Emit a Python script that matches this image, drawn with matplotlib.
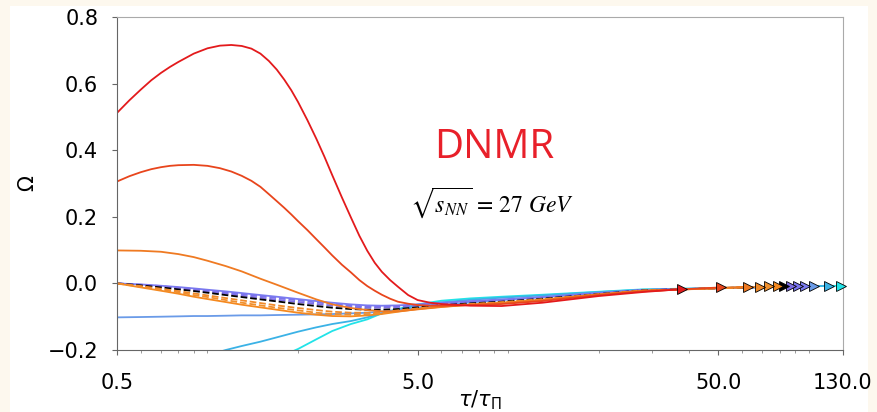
import matplotlib
matplotlib.use("Agg")
import matplotlib.pyplot as plt
from matplotlib.ticker import LogLocator, NullFormatter, FixedLocator, FixedFormatter
from matplotlib.patches import Rectangle

# time grid in units of tau_Pi, shared by the runs that start near zero
tau = [0.5, 0.6, 0.7, 0.8, 0.9, 1.0, 1.15, 1.3, 1.5, 1.7, 2.0, 2.3, 2.6, 3.0,
       3.4, 3.8, 4.3, 5.0, 6.0, 7.5, 9.5, 13, 20, 28]
# finer grid for the two runs with a large initial Omega
tau_fine = [0.5, 0.55, 0.6, 0.65, 0.7, 0.75, 0.8, 0.9, 1.0, 1.1, 1.2, 1.3, 1.4,
            1.5, 1.6, 1.7, 1.8, 1.9, 2.0, 2.15, 2.3, 2.45, 2.6, 2.8, 3.0, 3.2,
            3.4, 3.6, 3.8, 4.05, 4.3, 4.65, 5.0, 5.5, 6.0, 7.5, 9.5, 13, 20, 28]

om_red = [0.512, 0.550, 0.582, 0.610, 0.632, 0.650, 0.665, 0.690, 0.706, 0.714,
          0.716, 0.713, 0.705, 0.690, 0.668, 0.642, 0.612, 0.580, 0.545, 0.490,
          0.435, 0.380, 0.325, 0.258, 0.198, 0.143, 0.098, 0.062, 0.035, 0.010,
          -0.010, -0.035, -0.050, -0.058, -0.062, -0.067, -0.068, -0.058,
          -0.038, -0.026]
om_orangered = [0.306, 0.322, 0.334, 0.343, 0.349, 0.353, 0.355, 0.356, 0.353,
                0.346, 0.336, 0.323, 0.308, 0.290, 0.268, 0.247, 0.227, 0.207,
                0.187, 0.160, 0.133, 0.108, 0.084, 0.056, 0.033, 0.010, -0.008,
                -0.022, -0.034, -0.046, -0.055, -0.061, -0.065, -0.067, -0.067,
                -0.065, -0.062, -0.053, -0.035, -0.024]
om_orange = [0.099, 0.098, 0.095, 0.088, 0.079, 0.068, 0.052, 0.036, 0.014,
             -0.004, -0.028, -0.048, -0.063, -0.074, -0.080, -0.084, -0.084,
             -0.078, -0.071, -0.064, -0.059, -0.050, -0.034, -0.023]
om_orange_d1 = [0, -0.008, -0.016, -0.023, -0.030, -0.036, -0.044, -0.051, -0.059,
                -0.066, -0.074, -0.080, -0.085, -0.088, -0.088, -0.086, -0.081,
                -0.075, -0.068, -0.062, -0.057, -0.048, -0.033, -0.022]
om_orange_d2 = [0, -0.010, -0.019, -0.027, -0.035, -0.041, -0.050, -0.058, -0.066,
                -0.073, -0.081, -0.088, -0.092, -0.094, -0.093, -0.089, -0.083,
                -0.076, -0.069, -0.063, -0.057, -0.048, -0.033, -0.022]
om_orange_lo = [0, -0.012, -0.022, -0.031, -0.040, -0.047, -0.056, -0.064, -0.072,
                -0.079, -0.088, -0.094, -0.098, -0.099, -0.096, -0.092, -0.085,
                -0.077, -0.070, -0.064, -0.058, -0.049, -0.033, -0.022]
om_black = [0, -0.006, -0.012, -0.018, -0.023, -0.028, -0.035, -0.041, -0.048,
            -0.054, -0.062, -0.068, -0.073, -0.077, -0.079, -0.079, -0.077,
            -0.072, -0.066, -0.060, -0.055, -0.046, -0.032, -0.021]
om_purple1 = [0, -0.005, -0.010, -0.015, -0.020, -0.025, -0.031, -0.037, -0.043,
              -0.049, -0.056, -0.062, -0.067, -0.071, -0.073, -0.073, -0.071,
              -0.067, -0.062, -0.057, -0.052, -0.044, -0.031, -0.021]
om_purple2 = [0, -0.004, -0.008, -0.013, -0.017, -0.021, -0.027, -0.032, -0.038,
              -0.044, -0.051, -0.057, -0.062, -0.067, -0.069, -0.070, -0.068,
              -0.065, -0.060, -0.055, -0.050, -0.043, -0.030, -0.020]
om_purple3 = [0, -0.003, -0.007, -0.011, -0.015, -0.019, -0.024, -0.029, -0.035,
              -0.040, -0.047, -0.053, -0.058, -0.063, -0.066, -0.067, -0.066,
              -0.063, -0.058, -0.053, -0.048, -0.041, -0.029, -0.020]
om_blue = [-0.102, -0.101, -0.100, -0.099, -0.098, -0.098, -0.097, -0.096, -0.096,
           -0.095, -0.094, -0.093, -0.092, -0.090, -0.088, -0.085, -0.080,
           -0.073, -0.065, -0.057, -0.050, -0.041, -0.029, -0.020]
om_lightblue = [-0.290, -0.270, -0.255, -0.240, -0.228, -0.216, -0.200, -0.188,
                -0.175, -0.162, -0.145, -0.132, -0.122, -0.113, -0.102, -0.090,
                -0.078, -0.067, -0.057, -0.049, -0.043, -0.036, -0.026, -0.019]
om_cyan = [-0.500, -0.460, -0.420, -0.385, -0.355, -0.330, -0.300, -0.275, -0.247,
           -0.225, -0.197, -0.168, -0.143, -0.122, -0.108, -0.090, -0.077,
           -0.063, -0.052, -0.045, -0.040, -0.034, -0.025, -0.018]

# freeze-out point of each run (triangle markers)
tau_end = [38, 51, 63, 69, 74, 79, 83, 87, 92, 97.5, 104, 117, 128]
om_end = [-0.017, -0.012, -0.010, -0.010, -0.009, -0.009, -0.009, -0.008,
          -0.008, -0.008, -0.008, -0.007, -0.007]

runs = [om_red, om_orangered, om_orange, om_orange_d1, om_orange_d2, om_orange_lo,
        om_black, om_purple1, om_purple2, om_purple3, om_blue, om_lightblue, om_cyan]
grids = [tau_fine, tau_fine] + [tau] * 11
colors = ["#e31a1c", "#e8451c", "#ef7a22", "#f08a2a", "#f0902e", "#f5891f",
          "#000000", "#7f6fe6", "#7a74ee", "#7b7cf0", "#6a9be8", "#3bb2e6", "#22e3e8"]
styles = ["-", "-", "-", "--", "--", "-", "--", "--", "--", "-", "-", "-", "-"]

xticks = [0.5, 5.0, 50.0, 130.0]
xlabels = ["0.5", "5.0", "50.0", "130.0"]
yticks = [-0.2, 0.0, 0.2, 0.4, 0.6, 0.8]

fig = plt.figure(figsize=(8.78, 4.12), dpi=100)
fig.patch.set_facecolor("#fdf8ee")
# white card behind the plot, leaving a thin cream frame
fig.add_artist(Rectangle((10 / 878, 0), 858 / 878, 406 / 412,
                         transform=fig.transFigure, facecolor="white",
                         edgecolor="none", zorder=-5))
ax = fig.add_axes([117 / 878, 62 / 412, 726 / 878, 333 / 412])
ax.set_zorder(1)
ax.patch.set_alpha(0)

# draw the cold end first so the hot curves sit on top
order = list(range(len(runs)))[::-1]
for i in order:
    ax.plot(grids[i] + [tau_end[i]], runs[i] + [om_end[i]], color=colors[i],
            ls=styles[i], lw=1.3, zorder=2)
for i in order:
    ax.plot(tau_end[i], om_end[i], marker=">", ms=7, color=colors[i],
            mec="black", mew=0.6, ls="none", zorder=4, clip_on=False)

ax.set_xscale("log")
ax.set_xlim(0.5, 130)
ax.set_ylim(-0.2, 0.8)
ax.xaxis.set_major_locator(FixedLocator(xticks))
ax.xaxis.set_major_formatter(FixedFormatter(xlabels))
ax.xaxis.set_minor_locator(LogLocator(subs=range(1, 10)))
ax.xaxis.set_minor_formatter(NullFormatter())
ax.set_yticks(yticks)
ax.set_yticklabels(["\u22120.2", "0.0", "0.2", "0.4", "0.6", "0.8"])
ax.tick_params(labelsize=15, color="#666666")
ax.tick_params(axis="x", pad=13)
ax.tick_params(axis="y", pad=10)
ax.tick_params(which="minor", length=2.5, color="#888888")

for side in ["top", "right"]:
    ax.spines[side].set_color("#aaaaaa")
for side in ["left", "bottom"]:
    ax.spines[side].set_color("#666666")

ax.set_xlabel(r"$\tau/\tau_\Pi$", fontsize=15, labelpad=-3)
ax.set_ylabel(r"$\Omega$", fontsize=15, labelpad=7)

ax.text(0.519, 0.607, "DNMR", transform=ax.transAxes, color="#e8202a",
        fontsize=29, ha="center", va="center", family="Open Sans")
ax.text(0.517, 0.444, r"$\sqrt{s_{NN}}\, =\, 27\ GeV$", transform=ax.transAxes,
        fontsize=17, ha="center", va="center", math_fontfamily="stix")

fig.savefig("out.png", dpi=100, facecolor=fig.get_facecolor())
